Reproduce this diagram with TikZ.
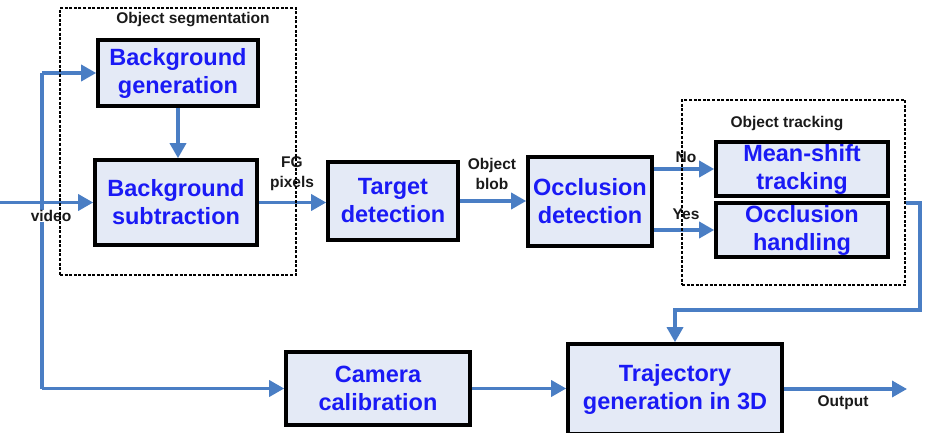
\documentclass[tikz,border=0pt]{standalone}
\usepackage{fontspec}
\setmainfont{Liberation Sans}
\usetikzlibrary{arrows.meta}
\definecolor{boxfill}{HTML}{E4EAF6}
\definecolor{boxtext}{HTML}{1A1AF5}
\definecolor{arrblue}{HTML}{4A7EC4}
\definecolor{lbl}{HTML}{1A1A1A}
\tikzset{
  procbox/.style={draw=black, line width=3.6pt, fill=boxfill, text=boxtext,
    font=\fontsize{23.5}{28}\selectfont\bfseries, align=center, inner sep=0pt},
  conn/.style={draw=arrblue, line width=3.4pt},
  arr/.style={conn, -{Triangle[length=15pt,width=16pt]}},
  smalllbl/.style={text=lbl, font=\fontsize{15.5}{20}\selectfont\bfseries, align=center, inner sep=1pt},
  groupbox/.style={draw=black, line width=2.4pt, dash pattern=on 3pt off 1.6pt, inner sep=0pt}
}
\begin{document}
\begin{tikzpicture}[x=1pt,y=-1pt]
\useasboundingbox (0,0) rectangle (925,433);
% process boxes
\node[procbox, minimum width=160pt, minimum height=66pt] (bggen) at (178,73) {Background\\generation};
\node[procbox, minimum width=162pt, minimum height=85pt] (bgsub) at (176,202.5) {Background\\subtraction};
\node[procbox, minimum width=130pt, minimum height=78pt] (target) at (393,201) {Target\\detection};
\node[procbox, minimum width=124pt, minimum height=89pt] (occl) at (590,201.5) {Occlusion\\detection};
\node[procbox, minimum width=172pt, minimum height=54pt] (ms) at (802,169) {Mean-shift\\tracking};
\node[procbox, minimum width=172pt, minimum height=54pt] (oh) at (802,230) {Occlusion\\handling};
\node[procbox, minimum width=184pt, minimum height=73pt] (cam) at (378,388.5) {Camera\\calibration};
\node[procbox, minimum width=214pt, minimum height=90pt] (traj) at (675,389) {Trajectory\\generation in 3D};
% coordinates
\coordinate (in) at (0,202.5);
\coordinate (vtop) at (42,73);
\coordinate (vbot) at (42,388.5);
\coordinate (rc) at (920,310);
\coordinate (out) at (907,389);
% connectors
\draw[arr] (in) -- (bgsub.west);
\draw[conn] (vtop) -- (vbot);
\draw[arr] (vtop) -- (bggen.west);
\draw[arr] (vbot) -- (cam.west);
\draw[arr] (bggen.south) -- (bggen.south |- bgsub.north);
\draw[arr] (bgsub.east) -- (bgsub.east -| target.west);
\draw[arr] (target.east) -- (target.east -| occl.west);
\draw[arr] (occl.east |- ms.west) -- (ms.west);
\draw[arr] (occl.east |- oh.west) -- (oh.west);
\draw[arr] (cam.east) -- (cam.east -| traj.west);
\draw[arr] (traj.east) -- (out);
% labels
\node[smalllbl, fill=white, inner sep=0.5pt] (video) at (51,216) {video};
\node[smalllbl] (fg) at (292,174) {FG\\pixels};
\node[smalllbl] (blob) at (492,174) {Object\\blob};
\node[smalllbl] (no) at (686,157) {No};
\node[smalllbl] (yes) at (686,214) {Yes};
\node[smalllbl] (output) at (843,403) {Output};
\node[smalllbl] (seglbl) at (193,20) {Object segmentation};
\node[smalllbl] (trklbl) at (787,124) {Object tracking};
% group frames
\node[groupbox, minimum width=236pt, minimum height=267pt] (segbox) at (178,141.5) {};
\node[groupbox, minimum width=223pt, minimum height=185pt] (trkbox) at (793.5,192.5) {};
\draw[arr] ([yshift=-10.5pt]trkbox.east) -| (rc) -| (traj.north);
\end{tikzpicture}
\end{document}
